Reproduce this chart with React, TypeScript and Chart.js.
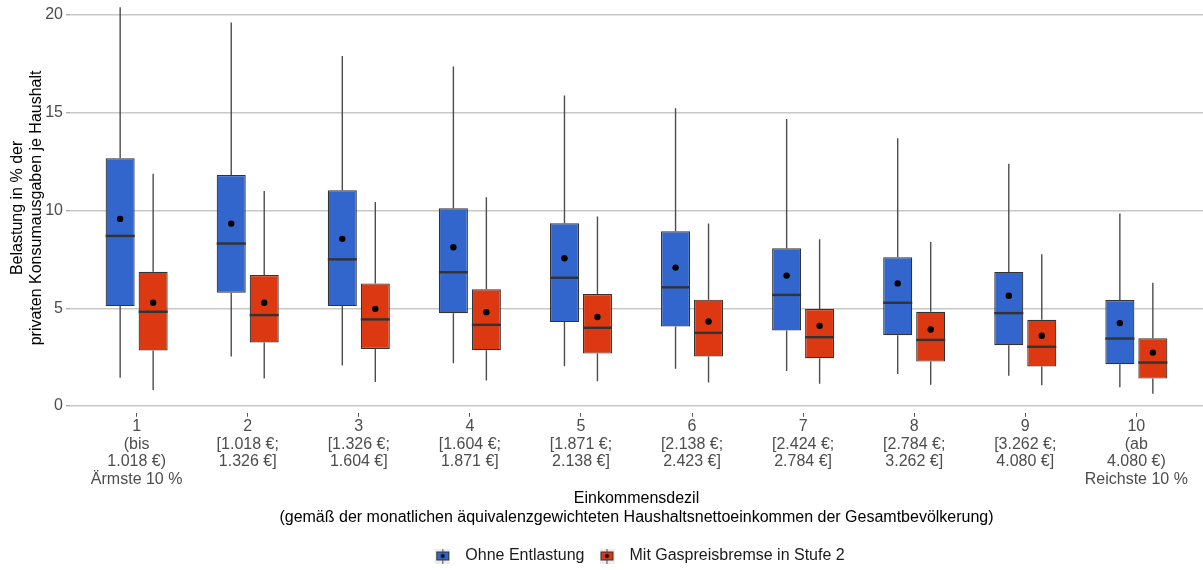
import React, { useEffect, useRef } from "react";
import { Chart, registerables } from "chart.js";

Chart.register(...registerables);

// ---- Data ----
const tickLines: string[][] = [
  ["1", "(bis", "1.018 €)", "Ärmste 10 %"],
  ["2", "[1.018 €;", "1.326 €]"],
  ["3", "[1.326 €;", "1.604 €]"],
  ["4", "[1.604 €;", "1.871 €]"],
  ["5", "[1.871 €;", "2.138 €]"],
  ["6", "[2.138 €;", "2.423 €]"],
  ["7", "[2.424 €;", "2.784 €]"],
  ["8", "[2.784 €;", "3.262 €]"],
  ["9", "[3.262 €;", "4.080 €]"],
  ["10", "(ab", "4.080 €)", "Reichste 10 %"],
];
const deciles = [1, 2, 3, 4, 5, 6, 7, 8, 9, 10];
const yTicks = [0, 5, 10, 15, 20];
const seriesNames = ["Ohne Entlastung", "Mit Gaspreisbremse in Stufe 2"];
const seriesColors = ["#3366CC", "#DC3912"];

const blueMin = [1.45, 2.53, 2.07, 2.19, 2.03, 1.91, 1.79, 1.64, 1.54, 0.96];
const blueQ1 = [5.11, 5.79, 5.11, 4.74, 4.29, 4.07, 3.86, 3.62, 3.11, 2.14];
const blueMedian = [8.7, 8.31, 7.5, 6.84, 6.56, 6.07, 5.68, 5.28, 4.75, 3.45];
const blueMean = [9.57, 9.33, 8.55, 8.12, 7.56, 7.08, 6.67, 6.27, 5.64, 4.24];
const blueQ3 = [12.67, 11.81, 11.03, 10.12, 9.35, 8.94, 8.07, 7.61, 6.86, 5.42];
const blueMax = [20.4, 19.62, 17.9, 17.37, 15.88, 15.23, 14.68, 13.69, 12.39, 9.85];

const redMin = [0.82, 1.4, 1.23, 1.3, 1.27, 1.2, 1.14, 1.08, 1.06, 0.63];
const redQ1 = [2.84, 3.25, 2.92, 2.85, 2.68, 2.53, 2.44, 2.27, 2.02, 1.4];
const redMedian = [4.82, 4.65, 4.43, 4.15, 4.0, 3.74, 3.52, 3.38, 3.03, 2.22];
const redMean = [5.28, 5.28, 4.97, 4.8, 4.55, 4.32, 4.1, 3.91, 3.59, 2.73];
const redQ3 = [6.87, 6.7, 6.27, 5.97, 5.73, 5.44, 4.96, 4.82, 4.41, 3.47];
const redMax = [11.88, 11.0, 10.43, 10.68, 9.69, 9.33, 8.53, 8.39, 7.76, 6.31];

const xTitle = [
  "Einkommensdezil",
  "(gemäß der monatlichen äquivalenzgewichteten Haushaltsnettoeinkommen der Gesamtbevölkerung)",
];
const yTitle = ["Belastung in % der", "privaten Konsumausgaben je Haushalt"];

const series = [
  { min: blueMin, q1: blueQ1, median: blueMedian, mean: blueMean, q3: blueQ3, max: blueMax },
  { min: redMin, q1: redQ1, median: redMedian, mean: redMean, q3: redQ3, max: redMax },
];

const FONT = "'Liberation Sans', Arial, Helvetica, sans-serif";

function makeIcon(color: string): HTMLCanvasElement {
  const c = document.createElement("canvas");
  c.width = 15;
  c.height = 15;
  const g = c.getContext("2d")!;
  g.fillStyle = "#ececec";
  g.fillRect(0, 0, 15, 15);
  g.strokeStyle = "#555";
  g.lineWidth = 1;
  g.beginPath();
  g.moveTo(7.5, 0);
  g.lineTo(7.5, 15);
  g.stroke();
  g.fillStyle = color;
  g.fillRect(1.5, 3.5, 12, 8);
  g.strokeStyle = "#333";
  g.strokeRect(1.5, 3.5, 12, 8);
  g.fillStyle = "#000";
  g.beginPath();
  g.arc(7.5, 7.5, 2, 0, Math.PI * 2);
  g.fill();
  return c;
}

const boxExtras = {
  id: "boxExtras",
  beforeDatasetsDraw(chart: any) {
    const ctx = chart.ctx;
    const y = chart.scales.y;
    ctx.save();
    ctx.strokeStyle = "#4d4d4d";
    ctx.lineWidth = 1.4;
    series.forEach((s, di) => {
      const meta = chart.getDatasetMeta(di);
      meta.data.forEach((bar: any, i: number) => {
        const { x } = bar.getProps(["x"], true);
        ctx.beginPath();
        ctx.moveTo(x, y.getPixelForValue(s.max[i]));
        ctx.lineTo(x, y.getPixelForValue(s.q3[i]));
        ctx.moveTo(x, y.getPixelForValue(s.q1[i]));
        ctx.lineTo(x, y.getPixelForValue(s.min[i]));
        ctx.stroke();
      });
    });
    ctx.restore();
  },
  afterDatasetsDraw(chart: any) {
    const ctx = chart.ctx;
    const y = chart.scales.y;
    ctx.save();
    series.forEach((s, di) => {
      const meta = chart.getDatasetMeta(di);
      meta.data.forEach((bar: any, i: number) => {
        const { x, width } = bar.getProps(["x", "width"], true);
        const my = y.getPixelForValue(s.median[i]);
        ctx.strokeStyle = "#333333";
        ctx.lineWidth = 2.4;
        ctx.beginPath();
        ctx.moveTo(x - width / 2, my);
        ctx.lineTo(x + width / 2, my);
        ctx.stroke();
        ctx.fillStyle = "#000";
        ctx.beginPath();
        ctx.arc(x, y.getPixelForValue(s.mean[i]), 3.2, 0, Math.PI * 2);
        ctx.fill();
      });
    });
    ctx.restore();
  },
};

export default function App() {
  const ref = useRef<HTMLCanvasElement | null>(null);

  useEffect(() => {
    if (!ref.current) return;
    const icons = seriesColors.map((c) => makeIcon(c));
    const chart = new Chart(ref.current, {
      type: "bar",
      data: {
        datasets: series.map((s, di) => ({
          label: seriesNames[di],
          data: deciles.map((d, i) => ({ x: d, y: [s.q1[i], s.q3[i]] })),
          backgroundColor: seriesColors[di],
          borderColor: "#333333",
          borderWidth: 1.2,
          borderSkipped: false,
          categoryPercentage: 0.594,
          barPercentage: 0.88,
        })),
      } as any,
      options: {
        responsive: false,
        animation: false,
        events: [],
        font: { family: FONT },
        layout: { padding: { top: 3, right: 0, bottom: -4, left: 0 } },
        plugins: {
          tooltip: { enabled: false },
          legend: {
            position: "bottom",
            fullSize: false,
            labels: {
              usePointStyle: true,
              pointStyleWidth: 29,
              padding: 8,
              color: "#1a1a1a",
              font: { size: 16, family: FONT },
              generateLabels: () =>
                seriesNames.map((n, i) => ({
                  text: n,
                  pointStyle: icons[i],
                  fillStyle: seriesColors[i],
                  strokeStyle: "#333",
                  lineWidth: 0,
                  hidden: false,
                  datasetIndex: i,
                  fontColor: "#1a1a1a",
                })),
            },
          },
        },
        scales: {
          x: {
            type: "linear",
            offset: false,
            min: 0.4,
            max: 10.6,
            afterBuildTicks: (axis: any) => {
              axis.ticks = deciles.map((d) => ({ value: d }));
            },
            afterFit: (s: any) => {
              s.height = 127.2;
              s.paddingLeft = 0;
              s.paddingRight = 0;
            },
            ticks: {
              autoSkip: false,
              maxRotation: 0,
              minRotation: 0,
              padding: 1,
              color: "#4d4d4d",
              font: { size: 16, family: FONT, lineHeight: 1.1 },
              callback: (v: any) => tickLines[Math.round(Number(v)) - 1] ?? "",
            },
            grid: {
              offset: false,
              drawOnChartArea: false,
              drawTicks: true,
              tickLength: 4,
              tickColor: "#555",
              tickWidth: 1,
            },
            border: { display: false },
            title: {
              display: true,
              text: xTitle,
              color: "#000",
              font: { size: 16, family: FONT, lineHeight: 1.15 },
              padding: { top: 4, bottom: 13.5 },
            },
          },
          y: {
            min: -0.349,
            max: 20.615,
            afterBuildTicks: (axis: any) => {
              axis.ticks = yTicks.map((v) => ({ value: v }));
            },
            afterFit: (s: any) => {
              s.width = 70;
              s.paddingTop = 0;
              s.paddingBottom = 0;
            },
            ticks: {
              padding: 3,
              color: "#4d4d4d",
              font: { size: 16, family: FONT },
            },
            grid: {
              color: "#c8c8c8",
              lineWidth: 1.4,
              tickLength: 4,
              tickColor: "#b0b0b0",
            },
            border: { display: false },
            title: {
              display: true,
              text: yTitle,
              color: "#000",
              font: { size: 16, family: FONT, lineHeight: 1.2 },
              padding: { top: 8, bottom: 0 },
            },
          },
        },
      } as any,
      plugins: [boxExtras],
    });
    return () => chart.destroy();
  }, []);

  return (
    <div style={{ position: "absolute", left: 0, top: 0, width: 1203, height: 570 }}>
      <canvas ref={ref} width={1203} height={570} style={{ display: "block" }} />
    </div>
  );
}
